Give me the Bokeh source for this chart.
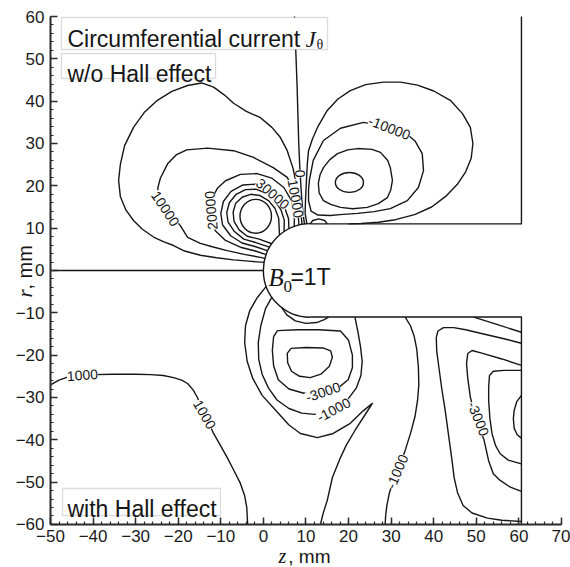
import numpy as np
from bokeh.plotting import figure
from bokeh.models import Range1d, SingleIntervalTicker, Label, BoxAnnotation
from bokeh.embed import file_html
from bokeh.resources import INLINE

# ---------------- geometry of the body (mm) ----------------
body_center_z = 11.0
body_radius = 11.0
body_top = [(11.0, 11.0), (60.6, 11.0), (60.6, 60.0)]
body_bottom = [(11.0, -11.0), (60.6, -11.0), (60.6, -60.0)]
axis_line = [(-50.0, 0.0), (0.0, 0.0)]

# ---------------- upper half: w/o Hall effect (z, r) ----------------
upper_zero = [(7.3, 60), (7.6, 52), (7.9, 44), (8.1, 37), (8.3, 30), (8.6, 23.3), (9.0, 17), (9.3, 13.5), (9.66, 10.92)]
upper_pos_outer = [(0.17, 1.91), (-3.5, 2.2), (-7.0, 2.5), (-11, 3.0), (-14.8, 3.6), (-18.5, 4.6), (-21.1, 5.9), (-23.5, 6.8),
                   (-25.8, 7.9), (-28.5, 9.8), (-30.5, 11.8), (-32.3, 14.3), (-33.6, 17.5), (-34.0, 21.3), (-33.6, 25),
                   (-32.6, 29.5), (-30.5, 33.8), (-28.0, 37.3), (-24.9, 40.2), (-21.5, 42.3), (-17.8, 43.7), (-14.5, 44.3),
                   (-11.7, 43.3), (-9.2, 41.5), (-7.0, 39.5), (-4.0, 37.6), (-0.7, 36.1), (2.0, 33.8), (4.0, 31.4),
                   (5.6, 28.3), (7.0, 24), (8.0, 19), (8.7, 14.6), (9.09, 10.83)]
upper_pos_10000 = [(0.37, 2.85), (-0.7, 3.1), (-4.5, 3.8), (-8.5, 4.7), (-12, 5.6), (-14.8, 6.4), (-17.8, 7.8), (-19.5, 10.6),
                   (-21.5, 13.0), (-23.0, 14.6), (-24.4, 17.0), (-24.8, 19.5), (-24.2, 21.8), (-22.5, 25.2), (-20.5, 27.3),
                   (-18.0, 28.5), (-13.1, 28.9), (-7.0, 28.3), (-2.3, 26.7), (2.3, 24.3), (5.6, 22.0), (7.3, 18.5),
                   (8.1, 14.5), (8.34, 10.67)]
upper_pos_20000 = [(0.66, 3.76), (-1.9, 4.6), (-5.4, 5.5), (-8.9, 7.1), (-11.3, 9.4), (-12.4, 13.0), (-12.4, 16.5),
                   (-10.8, 19.4), (-8.9, 21.2), (-5.4, 22.7), (-1.5, 22.9), (2.0, 21.8), (4.8, 19.6), (6.6, 16.5),
                   (7.3, 13.5), (7.24, 10.34)]
upper_pos_30000 = [(1.03, 4.65), (-1.8, 5.6), (-5.0, 6.5), (-7.7, 8.2), (-9.6, 10.8), (-10.0, 13.5), (-9.4, 16.3),
                   (-7.6, 18.7), (-4.8, 20.2), (-1.8, 20.4), (1.0, 19.2), (3.3, 17.2), (5.0, 14.8), (5.9, 12.3), (6.0, 9.8)]
upper_pos_40000 = [(1.47, 5.5), (-1.8, 6.6), (-4.6, 7.4), (-6.8, 9.2), (-8.3, 11.4), (-8.6, 13.7), (-8.0, 16.0),
                   (-6.4, 18.0), (-4.2, 19.1), (-1.8, 19.2), (0.6, 18.3), (2.6, 16.6), (4.1, 14.4), (4.9, 11.9), (4.85, 9.12)]
upper_pos_50000 = [(1.99, 6.31), (-1.0, 7.4), (-3.8, 8.1), (-5.7, 9.6), (-6.9, 11.6), (-7.1, 13.8), (-6.5, 15.9),
                   (-5.0, 17.3), (-3.0, 18.0), (-0.8, 17.7), (1.2, 16.5), (2.7, 14.7), (3.6, 12.3), (3.78, 8.3)]
upper_bump = [(11.0, 11.0), (11.6, 11.8), (13.0, 12.2), (14.4, 11.8), (15.0, 11.0)]
upper_neg_outer = [(10.23, 10.97), (9.8, 13.5), (9.9, 17), (10.1, 21), (10.3, 25), (10.6, 28.3), (11.5, 31), (12.8, 34),
                   (15.0, 37.8), (17.5, 40.5), (20.4, 42.5), (24, 43.9), (28.2, 44.5), (32.2, 44.5), (36.2, 43.8),
                   (40, 42.4), (43.9, 40.2), (46.8, 37), (48.6, 33.8), (49.2, 30.0), (48.8, 26.5), (47.5, 23.3),
                   (45.5, 20.3), (42.8, 17.5), (39.5, 15.0), (35.5, 13.2), (31.0, 12.0), (27.0, 11.4), (23.0, 11.1), (20.0, 11.0)]
upper_neg_10000 = [(10.8, 21.3), (11.7, 26.0), (14.1, 30.7), (18.1, 33.6), (23.5, 35.0), (29.5, 33.8), (33.5, 32.4),
                   (35.6, 30.6), (37.3, 27.6), (37.6, 23.6), (36.4, 19.6), (33.8, 16.5), (29.8, 14.6), (26, 13.9),
                   (22.1, 13.5), (18, 13.2), (15.7, 13.0), (12.8, 13.1), (11.2, 14.0), (10.6, 16.5), (10.6, 19), (10.8, 21.3)]
upper_neg_inner = [(22.1, 28.8), (25.5, 28.6), (27.5, 27.9), (29.2, 26.0), (29.8, 24.3), (30.3, 21.3), (29.9, 19),
                   (29.1, 17.2), (27, 15.8), (24.4, 14.9), (21, 14.6), (18.1, 14.9), (15.8, 15.6), (14.1, 16.5),
                   (13.1, 18.3), (12.9, 20.6), (13.3, 22.6), (14.1, 24.3), (15.6, 26.2), (17.4, 27.6), (19.8, 28.5), (22.1, 28.8)]

# closed innermost rings: centre z, centre r, width, height
core_z = [-1.8, 20.2]
core_r = [12.8, 20.8]
core_w = [7.4, 6.6]
core_h = [8.0, 4.7]

# ---------------- lower half: with Hall effect (z, r) ----------------
lower_arc = [(4.23, -8.67), (5.5, -10.5), (7.5, -11.9), (10, -12.5), (12.5, -12.3), (14.3, -11.6), (15.3, -11.0)]
lower_cusp = [(0.66, -3.76), (-1.5, -6.5), (-3.2, -9.5), (-4.2, -13), (-4.4, -17), (-3.8, -21.5), (-2.5, -25.5),
              (-0.3, -29.5), (3.3, -33.5), (6.0, -36.5), (8.7, -38.5), (12.7, -39.5), (16.4, -38.5), (20.4, -36.1),
              (23.5, -33.1), (25.6, -31.4), (23.8, -34.2), (21.5, -37.8), (19.5, -41.2), (18.1, -44.2), (16.2, -48.9),
              (15.0, -54.3), (14.0, -57.5), (13.4, -60)]
lower_m1000_lobe = [(1.99, -6.31), (0.5, -9.0), (-0.6, -13), (-1.2, -17), (-1.1, -21), (-0.3, -24.5), (1.2, -27.8),
                    (3.2, -30.6), (6.0, -32.6), (9.0, -33.7), (12, -34.0), (15, -33.5), (17.8, -32.2), (20.0, -30.2),
                    (21.8, -27.8), (22.9, -24.8), (23.2, -21.5), (22.8, -18), (22.2, -14.5), (21.5, -11.0)]
lower_m3000_lobe = [(3.3, -14.2), (8, -14.0), (13, -14.0), (18.1, -14.3), (20.0, -16.5), (20.9, -20), (20.9, -23.0),
                    (19.9, -25.8), (17.5, -27.8), (13.6, -28.9), (9.5, -29.0), (6.0, -28.0), (3.5, -25.8), (2.4, -22.5),
                    (2.1, -18.9), (2.4, -15.6), (3.3, -14.2)]
lower_lobe_core = [(6.5, -18.4), (10, -18.2), (14, -18.3), (15.8, -19.0), (16.2, -20.5), (15.5, -22.6), (13.5, -24.5),
                   (11, -25.3), (8.5, -25.0), (6.6, -23.8), (5.7, -21.8), (5.6, -19.6), (6.5, -18.4)]
lower_p1000_left = [(-50, -27.0), (-48, -25.9), (-45.5, -25.0), (-43, -24.7), (-40, -24.6), (-35, -24.5), (-30, -24.5),
                    (-26.5, -24.6), (-23.5, -24.8), (-21.1, -25.3), (-19.2, -25.9), (-17.8, -26.7), (-16.5, -28.2),
                    (-15.5, -30.0), (-14.5, -32.3), (-13.6, -34.5), (-12.6, -36.5), (-11.7, -38.5), (-10.0, -41.5),
                    (-8.5, -44.2), (-6.9, -47.3), (-5.4, -50.3), (-4.4, -53.2), (-3.9, -56), (-3.7, -60)]
lower_m1000_right = [(33.3, -11.0), (34.5, -13.0), (35.4, -15.5), (36.0, -18.5), (36.4, -22.9), (36.5, -27), (36.2, -30.7),
                     (35.6, -34.5), (34.6, -38.3), (33.3, -42.5), (32.0, -46), (30.6, -49.5), (29.6, -52.5), (29.0, -55.5),
                     (28.7, -58), (28.6, -60)]
lower_slant = [(49.4, -11.0), (55, -12.8), (60.6, -14.6)]
lower_u1 = [(60.6, -17.2), (56, -16.0), (51.7, -15.0), (47.5, -14.0), (44.7, -13.5), (42.3, -13.5), (41.0, -14.3),
            (40.6, -15.8), (40.7, -19), (41.2, -22.8), (41.9, -28), (42.7, -33.1), (43.5, -39), (44.3, -44.9), (44.8, -49),
            (45.6, -52.5), (46.9, -55.5), (49.0, -57.3), (52.6, -58.5), (56, -59.0), (60.6, -59.3)]
lower_u2 = [(60.6, -22.4), (56, -20.9), (51.5, -19.6), (49.0, -18.9), (48.0, -19.6), (47.7, -22.0), (48.0, -25.5),
            (48.6, -29.9), (49.5, -33.5), (50.6, -37), (51.8, -40.0), (52.9, -45.0), (54.0, -48.0), (55.6, -49.6),
            (58.0, -51.2), (60.6, -52.2)]
lower_u3 = [(60.6, -23.6), (56.5, -23.6), (54.0, -23.8), (53.1, -24.8), (52.9, -27.5), (52.9, -30.7), (53.2, -35),
            (53.7, -38.6), (54.5, -41.3), (55.6, -43.3), (57.5, -44.8), (60.6, -45.7)]
lower_u4 = [(60.6, -29.5), (59.5, -31), (58.9, -33), (58.7, -35), (58.9, -37.3), (59.6, -38.8), (60.6, -39.6)]

# ---------------- contour labels ----------------
clabel_text = ["0", "10000", "10000", "20000", "30000", "-10000", "-1000", "-3000", "1000", "1000", "-1000", "-3000"]
clabel_z = [8.7, -23.0, 7.6, -12.3, 2.2, 29.6, 16.5, 14.0, -42.5, -13.8, 31.4, 50.5]
clabel_r = [22.9, 14.6, 17.0, 14.2, 18.1, 33.7, -32.9, -28.7, -24.7, -34.0, -47.5, -35.0]
clabel_angle = [-90, -56, -80, 95, -41, -21, 28, 19, 4, -60, 67, -68]

# axis extents
z_ticks_range = (-50, 70)
r_ticks_range = (-60, 60)

FONT = "Liberation Sans"
SERIF = "Liberation Serif"
INK = "#161616"

# the frame covers the whole canvas; the axes sit at fixed data locations
p = figure(width=570, height=566, x_range=Range1d(-61.74, 72.12), y_range=Range1d(-69.93, 63.78),
           output_backend="svg", toolbar_location=None,
           min_border_left=0, min_border_right=0, min_border_top=0, min_border_bottom=0)
p.outline_line_color = None
p.grid.visible = False
p.xaxis.fixed_location = r_ticks_range[0]
p.yaxis.fixed_location = z_ticks_range[0]
p.xaxis.bounds = z_ticks_range
p.yaxis.bounds = r_ticks_range

for ax in (p.xaxis[0], p.yaxis[0]):
    ax.ticker = SingleIntervalTicker(interval=10, num_minor_ticks=5)
    ax.axis_line_width = 2
    ax.axis_line_color = "#2a2a2a"
    ax.major_tick_in = 7
    ax.major_tick_out = 0
    ax.minor_tick_in = 3
    ax.minor_tick_out = 0
    ax.major_tick_line_width = 1.5
    ax.minor_tick_line_width = 1.2
    ax.major_tick_line_color = "#2a2a2a"
    ax.minor_tick_line_color = "#2a2a2a"
    ax.major_label_text_font = FONT
    ax.major_label_text_font_size = "17px"
    ax.major_label_text_color = "#1a1a1a"
    ax.major_label_standoff = 6

open_lines = [body_top, body_bottom, axis_line,
              upper_zero, upper_pos_outer, upper_pos_10000, upper_pos_20000, upper_pos_30000, upper_pos_40000,
              upper_pos_50000, upper_bump, upper_neg_outer, upper_neg_10000, upper_neg_inner,
              lower_arc, lower_cusp, lower_m1000_lobe, lower_m3000_lobe, lower_lobe_core, lower_p1000_left,
              lower_m1000_right, lower_slant, lower_u1, lower_u2, lower_u3, lower_u4]
p.multi_line(xs=[[pt[0] for pt in c] for c in open_lines], ys=[[pt[1] for pt in c] for c in open_lines],
             line_color=INK, line_width=1.4, line_join="round")
p.ellipse(x=core_z, y=core_r, width=core_w, height=core_h, fill_color=None, line_color=INK, line_width=1.4)
p.arc(x=[body_center_z], y=[0.0], radius=body_radius, start_angle=np.pi / 2, end_angle=3 * np.pi / 2,
      line_color=INK, line_width=1.4)

for t, z, r, a in zip(clabel_text, clabel_z, clabel_r, clabel_angle):
    p.add_layout(Label(x=z, y=r, text=t, angle=a, angle_units="deg", text_align="center", text_baseline="middle",
                       text_font=FONT, text_font_size="14px", text_color=INK,
                       background_fill_color="white", background_fill_alpha=1.0))

# text boxes
for left, right, top, bottom in [(-47.42, 15.05, 59.76, 52.20), (-47.42, -11.25, 51.26, 45.35), (-47.18, -10.08, -51.50, -57.88)]:
    p.add_layout(BoxAnnotation(left=left, right=right, top=top, bottom=bottom, fill_color="white", fill_alpha=1.0,
                               line_color="#8c8c8c", line_width=1.3))

def put(x, y, text, font=FONT, size="23px", style="normal", angle=0):
    p.add_layout(Label(x=x, y=y, text=text, text_font=font, text_font_size=size, text_font_style=style,
                       text_align="left", text_baseline="alphabetic", text_color=INK, angle=angle, angle_units="deg"))

put(-46.01, 54.68, "Circumferential current")
put(9.89, 54.68, "J", font=SERIF, style="italic")
put(12.47, 53.39, "θ", font=SERIF, size="14px")
put(-46.01, 46.30, "w/o Hall effect")
put(-46.01, -56.23, "with Hall effect")
put(1.17, -1.65, "B", font=SERIF, size="25px", style="italic")
put(4.70, -3.78, "0", font=SERIF, size="17px")
put(6.34, -1.65, "=1T")
# axis titles
put(-55.87, -6.38, "r", font=SERIF, size="21px", style="italic", angle=90)
put(-55.87, -4.49, ", mm", size="20px", angle=90)
put(3.55, -67.45, "z", font=SERIF, size="20px", style="italic")
put(5.85, -67.45, ", mm", size="19px")

open("out.html", "w").write(file_html(p, INLINE))
